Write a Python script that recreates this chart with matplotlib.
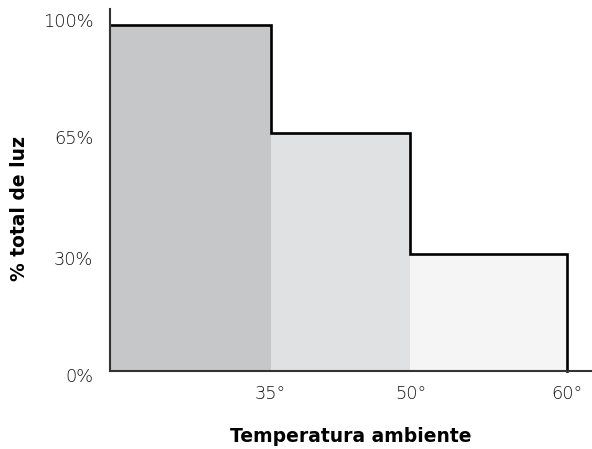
import numpy as np
import matplotlib
matplotlib.use("Agg")
import matplotlib.pyplot as plt
from matplotlib.transforms import ScaledTranslation

# ---- data ----
temp_edges = [0, 35, 50, 60]          # band edges (°C)
light_pct = [100, 65, 30]             # % total de luz per band
band_colors = ["#c6c7c9", "#e0e1e3", "#f5f5f6"]
xtick_vals = [35, 50, 60]
xtick_labels = ["35°", "50°", "60°"]
ytick_vals = [0, 30, 65, 100]
ytick_labels = ["0%", "30%", "65%", "100%"]

# schematic (non-linear) axes as in the reference
xk_val = [0, 35, 50, 60, 80]
xk_pos = [0, 160.5, 300.5, 457, 770]
yk_val = [0, 30, 65, 100, 200]
yk_pos = [0, 117, 238.5, 345.7, 653]

def fx(v): return np.interp(v, xk_val, xk_pos)
def ix(p): return np.interp(p, xk_pos, xk_val)
def fy(v): return np.interp(v, yk_val, yk_pos)
def iy(p): return np.interp(p, yk_pos, yk_val)

fig = plt.figure(figsize=(5.92, 4.49), dpi=100)
W, H = 592, 449
ax = fig.add_axes([110 / W, 78 / H, 482 / W, 362 / H])
ax.set_xscale("function", functions=(fx, ix))
ax.set_yscale("function", functions=(fy, iy))

# fills
for i, v in enumerate(light_pct):
    ax.fill_between([temp_edges[i], temp_edges[i + 1]], 0, v,
                    color=band_colors[i], lw=0, zorder=1)

# step outline
xs = np.repeat(temp_edges, 2)[1:]
ys = np.append(np.repeat(light_pct, 2), 0)
ax.plot(xs, ys, color="black", lw=1.9, solid_joinstyle="miter", zorder=3, clip_on=False)

ax.set_xlim(0, float(ix(482)))
ax.set_ylim(0, float(iy(362)))

for s in ["top", "right"]:
    ax.spines[s].set_visible(False)
for s in ["left", "bottom"]:
    ax.spines[s].set_color("#333333")
    ax.spines[s].set_linewidth(1.5)
    ax.spines[s].set_zorder(4)

ax.set_xticks(xtick_vals)
ax.set_xticklabels(xtick_labels, fontweight="light")
ax.set_yticks(ytick_vals)
ax.set_yticklabels(ytick_labels, fontweight="light")
ax.xaxis.set_minor_locator(matplotlib.ticker.NullLocator())
ax.yaxis.set_minor_locator(matplotlib.ticker.NullLocator())
ax.tick_params(axis="both", length=0, labelsize=12.8, labelcolor="#111111")
ax.tick_params(axis="y", pad=12)
ax.tick_params(axis="x", pad=10)

# small vertical offsets of y tick labels as in reference
offs = {"0%": -3.2, "30%": -3.0, "65%": -3.4, "100%": 3.6}
for lab in ax.get_yticklabels():
    dy = offs.get(lab.get_text(), 0)
    lab.set_transform(lab.get_transform() + ScaledTranslation(0, dy / 72, fig.dpi_scale_trans))

ax.set_ylabel("% total de luz", fontsize=13.5, fontweight="bold", color="black")
ax.yaxis.label.set_va("center")
ax.yaxis.set_label_coords(-0.187, 0.45)
ax.set_xlabel("Temperatura ambiente", fontsize=13.5, fontweight="bold", color="black")
ax.xaxis.label.set_va("center")
ax.xaxis.set_label_coords(0.5, -0.182)

fig.savefig("out.png", dpi=100)
